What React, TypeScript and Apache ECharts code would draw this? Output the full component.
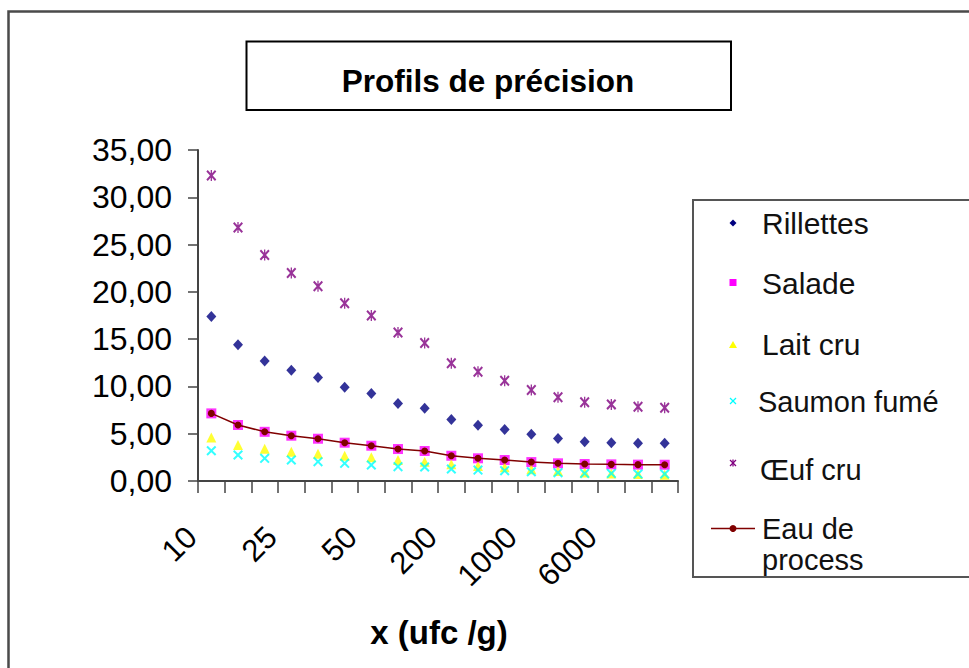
import React, { useEffect, useRef } from "react";
import * as echarts from "echarts";

// ---- Data ----
const xCategories = ["10", "15", "20", "25", "30", "40", "50", "75", "100", "200", "400", "600", "1000", "2000", "4000", "6000", "8000", "10000"];
const yMin = 0;
const yMax = 35;
const yInterval = 5;

const rillettes = [17.4, 14.4, 12.7, 11.7, 10.95, 9.9, 9.25, 8.2, 7.7, 6.5, 5.9, 5.45, 4.95, 4.5, 4.15, 4.05, 4.0, 3.98];
const salade = [7.15, 5.92, 5.2, 4.79, 4.47, 4.05, 3.73, 3.38, 3.17, 2.67, 2.4, 2.22, 2.0, 1.87, 1.8, 1.76, 1.73, 1.72];
const laitCru = [4.6, 3.8, 3.4, 3.1, 2.88, 2.66, 2.5, 2.22, 2.04, 1.76, 1.58, 1.45, 1.24, 1.06, 0.91, 0.8, 0.74, 0.67];
const saumonFume = [3.2, 2.75, 2.4, 2.22, 2.04, 1.87, 1.69, 1.51, 1.48, 1.27, 1.16, 1.09, 0.98, 0.88, 0.8, 0.8, 0.74, 0.74];
const oeufCru = [32.3, 26.8, 23.9, 22.0, 20.6, 18.8, 17.5, 15.7, 14.6, 12.45, 11.55, 10.6, 9.62, 8.85, 8.32, 8.1, 7.85, 7.75];
const eauProcess = [7.15, 5.92, 5.2, 4.79, 4.47, 4.05, 3.73, 3.38, 3.17, 2.67, 2.4, 2.22, 2.0, 1.87, 1.8, 1.76, 1.73, 1.72];

const seriesNames = ["Rillettes", "Salade", "Lait cru", "Saumon fumé", "Œuf cru", "Eau de process"];
const titleText = "Profils de précision";
const xAxisTitle = "x (ufc /g)";

const FONT = "'Liberation Sans', Arial, Helvetica, sans-serif";

const C_RILL = "#000080";
const C_SAL = "#FF00FF";
const C_LAIT = "#FFFF00";
const C_SAUM = "#00FFFF";
const C_OEUF = "#800080";
const C_EAU = "#800000";

const X_PATH = "path://M0,1.4 L1.4,0 L5,3.6 L8.6,0 L10,1.4 L6.4,5 L10,8.6 L8.6,10 L5,6.4 L1.4,10 L0,8.6 L3.6,5 Z";
const STAR_PATH =
  "path://M0,1.4 L1.4,0 L5,3.6 L8.6,0 L10,1.4 L6.4,5 L10,8.6 L8.6,10 L5,6.4 L1.4,10 L0,8.6 L3.6,5 Z M4.35,0 L5.65,0 L5.65,10 L4.35,10 Z";

function legendGraphics() {
  const mx = 733;
  const tx = 762;
  const els: any[] = [];
  els.push({
    type: "rect",
    silent: true,
    shape: { x: 693, y: 200, width: 400, height: 377 },
    style: { fill: "#fff", stroke: "#555", lineWidth: 2 },
  });
  els.push({
    type: "polygon",
    silent: true,
    shape: { points: [[mx, 219.5], [mx + 3.5, 223], [mx, 226.5], [mx - 3.5, 223]] },
    style: { fill: C_RILL },
  });
  els.push({
    type: "rect",
    silent: true,
    shape: { x: mx - 3.5, y: 279, width: 7, height: 7 },
    style: { fill: C_SAL },
  });
  els.push({
    type: "polygon",
    silent: true,
    shape: { points: [[mx, 341], [mx + 4, 348], [mx - 4, 348]] },
    style: { fill: C_LAIT },
  });
  els.push({ type: "line", silent: true, shape: { x1: mx - 3, y1: 398, x2: mx + 3, y2: 404 }, style: { stroke: C_SAUM, lineWidth: 1.3 } });
  els.push({ type: "line", silent: true, shape: { x1: mx + 3, y1: 398, x2: mx - 3, y2: 404 }, style: { stroke: C_SAUM, lineWidth: 1.3 } });
  els.push({ type: "line", silent: true, shape: { x1: mx - 3, y1: 460, x2: mx + 3, y2: 466 }, style: { stroke: C_OEUF, lineWidth: 1.3 } });
  els.push({ type: "line", silent: true, shape: { x1: mx + 3, y1: 460, x2: mx - 3, y2: 466 }, style: { stroke: C_OEUF, lineWidth: 1.3 } });
  els.push({ type: "line", silent: true, shape: { x1: mx, y1: 459.5, x2: mx, y2: 466.5 }, style: { stroke: C_OEUF, lineWidth: 1.3 } });
  els.push({ type: "line", silent: true, shape: { x1: 711, y1: 528.5, x2: 755, y2: 528.5 }, style: { stroke: C_EAU, lineWidth: 1.5 } });
  els.push({ type: "circle", silent: true, shape: { cx: mx, cy: 528.5, r: 3.5 }, style: { fill: C_EAU } });

  const texts = [
    { t: seriesNames[0], x: tx, y: 223, fs: 30, lh: 32 },
    { t: seriesNames[1], x: tx, y: 283, fs: 30, lh: 32 },
    { t: seriesNames[2], x: tx, y: 344, fs: 30, lh: 32 },
    { t: seriesNames[3], x: 758, y: 402, fs: 29, lh: 32 },
    { t: seriesNames[4], x: 760, y: 470, fs: 29, lh: 32 },
    { t: "Eau de\nprocess", x: tx, y: 544, fs: 29, lh: 31 },
  ];
  texts.forEach((o) => {
    els.push({
      type: "text",
      silent: true,
      x: o.x,
      y: o.y,
      style: {
        text: o.t,
        fontSize: o.fs,
        lineHeight: o.lh,
        fontFamily: FONT,
        fill: "#111",
        align: "left",
        verticalAlign: "middle",
        textAlign: "left",
        textVerticalAlign: "middle",
      },
    });
  });
  return els;
}

export default function App() {
  const ref = useRef<HTMLDivElement>(null);

  useEffect(() => {
    if (!ref.current) return;
    const chart = echarts.init(ref.current, null, { renderer: "svg" });
    const option: any = {
      animation: false,
      backgroundColor: "#ffffff",
      grid: { left: 198, top: 150, width: 480, height: 331, containLabel: false },
      legend: { show: false },
      xAxis: {
        type: "category",
        data: xCategories,
        boundaryGap: true,
        axisLine: { show: true, lineStyle: { color: "#444", width: 2 } },
        axisTick: { show: true, interval: 0, length: 12, lineStyle: { color: "#444", width: 1.5 } },
        axisLabel: {
          interval: 2,
          rotate: 45,
          margin: 31,
          padding: [0, 28, 0, 0],
          fontSize: 31,
          fontFamily: FONT,
          color: "#000",
        },
        splitLine: { show: false },
      },
      yAxis: {
        type: "value",
        min: yMin,
        max: yMax,
        interval: yInterval,
        axisLine: { show: true, lineStyle: { color: "#444", width: 2 } },
        axisTick: { show: true, length: 10, lineStyle: { color: "#444", width: 1.5 } },
        axisLabel: {
          margin: 26,
          fontSize: 32,
          fontFamily: FONT,
          color: "#000",
          formatter: (v: number) => v.toFixed(2).replace(".", ","),
        },
        splitLine: { show: false },
      },
      series: [
        {
          name: seriesNames[0],
          type: "scatter",
          data: rillettes,
          symbol: "diamond",
          symbolSize: [10, 11],
          itemStyle: { color: C_RILL },
        },
        {
          name: seriesNames[1],
          type: "scatter",
          data: salade,
          symbol: "rect",
          symbolSize: 10,
          itemStyle: { color: C_SAL },
        },
        {
          name: seriesNames[2],
          type: "scatter",
          data: laitCru,
          symbol: "triangle",
          symbolSize: [10, 10],
          itemStyle: { color: C_LAIT },
        },
        {
          name: seriesNames[3],
          type: "scatter",
          data: saumonFume,
          symbol: X_PATH,
          symbolSize: [10, 10],
          itemStyle: { color: C_SAUM },
        },
        {
          name: seriesNames[4],
          type: "scatter",
          data: oeufCru,
          symbol: STAR_PATH,
          symbolSize: [10, 11],
          itemStyle: { color: C_OEUF },
        },
        {
          name: seriesNames[5],
          type: "line",
          data: eauProcess,
          symbol: "circle",
          symbolSize: 7,
          showSymbol: true,
          lineStyle: { color: C_EAU, width: 1.5 },
          itemStyle: { color: C_EAU },
        },
      ],
      graphic: [
        {
          type: "rect",
          silent: true,
          z: -1,
          shape: { x: 8.5, y: 11.5, width: 1000, height: 700 },
          style: { fill: "none", stroke: "#4a4a4a", lineWidth: 2.5 },
        },
        {
          type: "rect",
          silent: true,
          shape: { x: 246.5, y: 41.5, width: 484.5, height: 68.5 },
          style: { fill: "#fff", stroke: "#000", lineWidth: 2 },
        },
        {
          type: "text",
          silent: true,
          x: 488,
          y: 81,
          style: {
            text: titleText,
            fontSize: 31.5,
            fontWeight: "bold",
            fontFamily: FONT,
            fill: "#000",
            align: "center",
            verticalAlign: "middle",
            textAlign: "center",
            textVerticalAlign: "middle",
          },
        },
        {
          type: "text",
          silent: true,
          x: 439,
          y: 632,
          style: {
            text: xAxisTitle,
            fontSize: 33,
            fontWeight: "bold",
            fontFamily: FONT,
            fill: "#000",
            align: "center",
            verticalAlign: "middle",
            textAlign: "center",
            textVerticalAlign: "middle",
          },
        },
        ...legendGraphics(),
      ],
    };
    chart.setOption(option);
    return () => {
      chart.dispose();
    };
  }, []);

  return (
    <div
      ref={ref}
      style={{ position: "absolute", left: 0, top: 0, width: 969, height: 668, background: "#fff" }}
    />
  );
}
